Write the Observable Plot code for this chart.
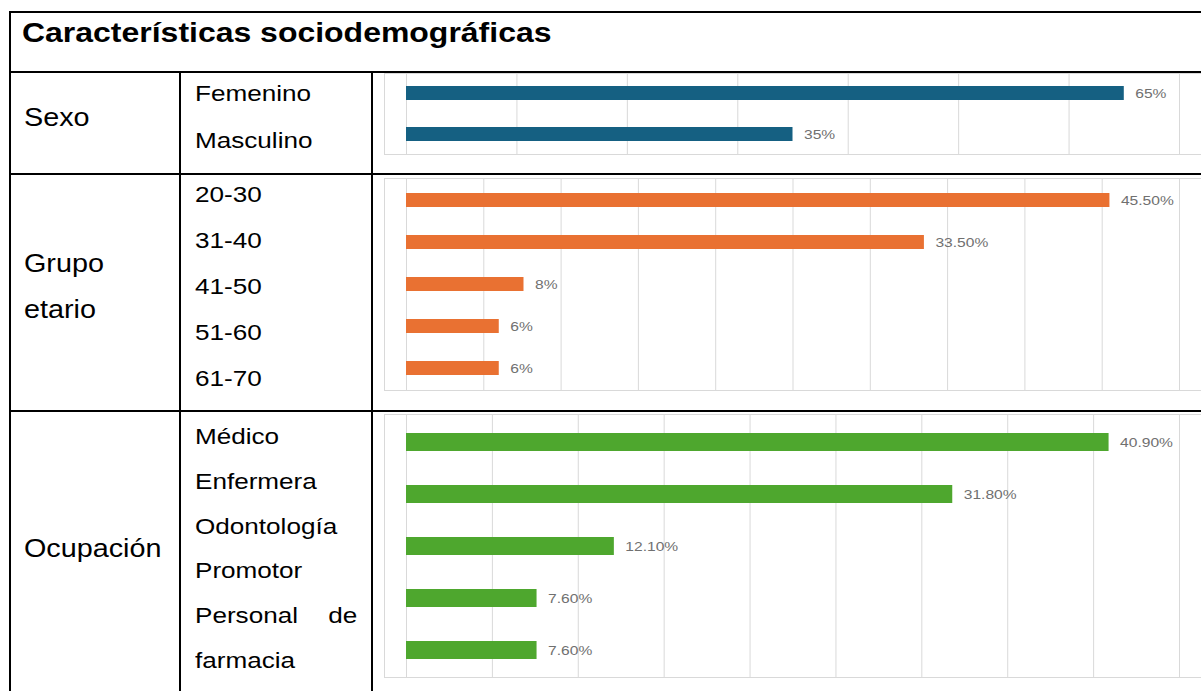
<!DOCTYPE html>
<html><head><meta charset="utf-8">
<script src="https://cdn.jsdelivr.net/npm/d3@7"></script>
<script src="https://cdn.jsdelivr.net/npm/@observablehq/plot@0.6"></script>
<style>
html,body{margin:0;padding:0}
body{width:1201px;height:691px;overflow:hidden;background:#fff;font-family:"Liberation Sans",Arial,Helvetica,sans-serif;position:relative}
.ln{position:absolute;background:#000}
.t{position:absolute;white-space:nowrap;color:#000;transform-origin:0 50%;transform:scaleX(1.15)}
.tr{transform-origin:100% 50%}
.box{position:absolute;border:1px solid #d9d9d9;overflow:hidden;background:#fff}
.box svg{display:block}
</style></head><body>
<script>
// ---- data ----
const title = "Características sociodemográficas";
const groupNames = [["Sexo"], ["Grupo", "etario"], ["Ocupación"]];
const sexoCats = ["Femenino", "Masculino"];
const sexoVals = [65, 35];
const sexoLabels = ["65%", "35%"];
const sexoTicks = [0, 10, 20, 30, 40, 50, 60, 70];
const edadCats = ["20-30", "31-40", "41-50", "51-60", "61-70"];
const edadVals = [45.5, 33.5, 7.6, 6, 6];
const edadLabels = ["45.50%", "33.50%", "8%", "6%", "6%"];
const edadTicks = [0, 5, 10, 15, 20, 25, 30, 35, 40, 45, 50];
const ocupCats = ["Médico", "Enfermera", "Odontología", "Promotor", "Personal de farmacia"];
const ocupVals = [40.9, 31.8, 12.1, 7.6, 7.6];
const ocupLabels = ["40.90%", "31.80%", "12.10%", "7.60%", "7.60%"];
const ocupTicks = [0, 5, 10, 15, 20, 25, 30, 35, 40, 45];
const colors = ["#156082", "#E97132", "#4EA72E"];

// ---- layout ----
const body = document.body;
function line(x, y, w, h) {
  const d = document.createElement("div");
  d.className = "ln";
  Object.assign(d.style, {left: x + "px", top: y + "px", width: w + "px", height: h + "px"});
  body.appendChild(d);
}
function text(str, x, cy, size, opts = {}) {
  const d = document.createElement("div");
  d.className = "t" + (opts.right ? " tr" : "");
  const L = Math.round(size * 1.5);
  Object.assign(d.style, {top: (cy - L / 2) + "px", fontSize: size + "px", lineHeight: L + "px",
    fontWeight: opts.bold ? "bold" : "normal"});
  if (opts.right) d.style.right = (1201 - x) + "px"; else d.style.left = x + "px";
  d.textContent = str;
  body.appendChild(d);
}

// table lines
line(9, 11, 1200, 2);
line(9, 71, 1200, 2);
line(9, 173, 1200, 2);
line(9, 410, 1200, 2);
line(9, 11, 2, 690);
line(179, 72, 2, 620);
line(371, 72, 2, 620);

text(title, 22, 33, 27.8, {bold: true});

const panels = [
  {cats: sexoCats, vals: sexoVals, labels: sexoLabels, ticks: sexoTicks, top: 73, height: 82,
   pI: 0.65, pO: 0.29, catTop: 93, catStep: 47},
  {cats: edadCats, vals: edadVals, labels: edadLabels, ticks: edadTicks, top: 178, height: 213,
   pI: 0.66, pO: 0.33, catTop: 194, catStep: 46},
  {cats: ocupCats, vals: ocupVals, labels: ocupLabels, ticks: ocupTicks, top: 414, height: 264,
   pI: 0.65, pO: 0.33, catTop: 436, catStep: 44.8}
];

const boxLeft = 384, boxW = 832, zeroX = 406, endX = 1179;
const catSize = 22.7, groupSize = 25;

panels.forEach((p, gi) => {
  // category labels (left column)
  const lines = [];
  p.cats.forEach(c => {
    const w = c.split(" ");
    if (w.length > 2) { lines.push([w.slice(0, 2).join(" "), true]); lines.push([w.slice(2).join(" "), false]); }
    else lines.push([c, false]);
  });
  lines.forEach(([s, just], i) => {
    const cy = p.catTop + i * p.catStep;
    if (just) {
      const parts = s.split(" ");
      text(parts[0], 195, cy, catSize);
      text(parts[1], 357, cy, catSize, {right: true});
    } else text(s, 195, cy, catSize);
  });
  const gl = groupNames[gi];
  const mid = p.catTop + (lines.length - 1) * p.catStep / 2;
  gl.forEach((s, i) => text(s, 24, mid + (i - (gl.length - 1) / 2) * 46, groupSize));

  // chart
  const data = p.cats.map((c, i) => ({cat: c, value: p.vals[i], label: p.labels[i]}));
  const innerW = boxW - 2, innerH = p.height - 2;
  const svg = Plot.plot({
    width: innerW,
    height: innerH,
    marginLeft: zeroX - boxLeft - 1,
    marginRight: (boxLeft + 1 + innerW) - endX,
    marginTop: 0,
    marginBottom: 0,
    style: {fontFamily: '"Liberation Sans", Arial, sans-serif', background: "transparent", overflow: "visible"},
    x: {domain: [0, p.ticks[p.ticks.length - 1]], axis: null},
    y: {domain: p.cats, axis: null, paddingInner: p.pI, paddingOuter: p.pO},
    marks: [
      Plot.gridX(p.ticks, {stroke: "#d9d9d9", strokeOpacity: 1, strokeWidth: 1}),
      Plot.barX(data, {x: "value", y: "cat", fill: colors[gi]}),
      Plot.text(data, {x: "value", y: "cat", text: "label", textAnchor: "start", dx: 11,
        fill: "#707070", fontSize: 13})
    ]
  });
  // stretch the value labels horizontally (as in the reference), keeping their anchor point
  svg.querySelectorAll("text").forEach(t => {
    let tx = 0, ty = 0;
    const xa = t.getAttribute("x"), ya = t.getAttribute("y");
    if (xa !== null && isFinite(+xa)) { tx = +xa; t.removeAttribute("x"); }
    if (ya !== null && isFinite(+ya)) { ty = +ya; t.removeAttribute("y"); }
    const tr = t.getAttribute("transform") || "";
    t.setAttribute("transform", `${tr} translate(${tx},${ty}) scale(1.2,1)`);
  });
  const box = document.createElement("div");
  box.className = "box";
  Object.assign(box.style, {left: boxLeft + "px", top: p.top + "px", width: innerW + "px", height: innerH + "px"});
  box.appendChild(svg);
  body.appendChild(box);
});
</script>
</body></html>
